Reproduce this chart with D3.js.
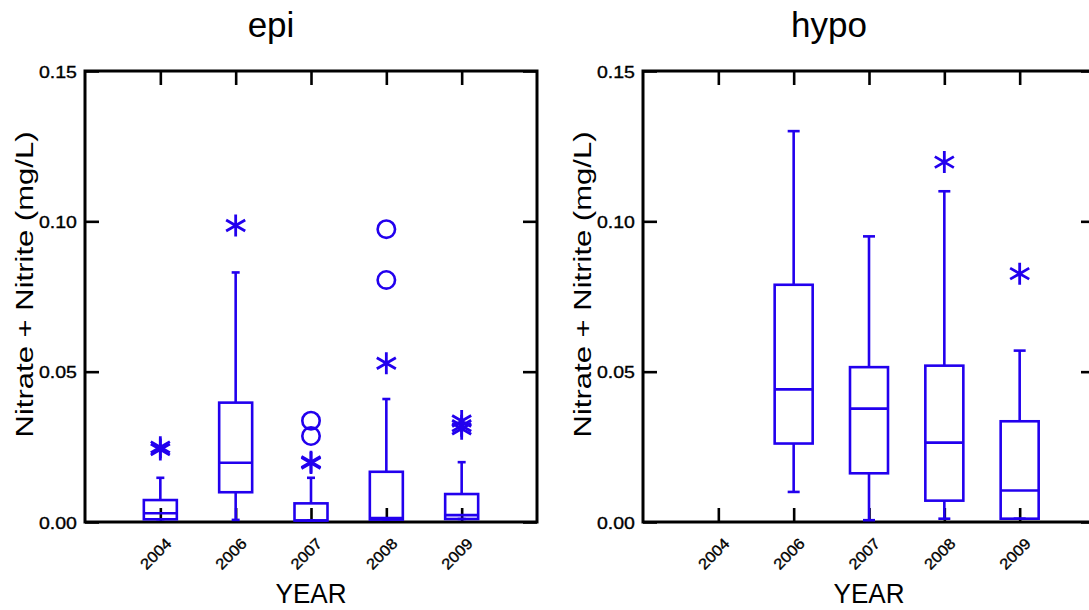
<!DOCTYPE html>
<html>
<head>
<meta charset="utf-8">
<script src="https://cdn.jsdelivr.net/npm/d3@7"></script>
<style>
  html, body { margin: 0; padding: 0; background: #fff; }
  svg { display: block; }
  text { font-family: "Liberation Sans", Arial, Helvetica, sans-serif; fill: #000; }
  .lbl { stroke: #000; stroke-width: 0.35px; }
</style>
</head>
<body>
<svg id="chart" width="1089" height="610"></svg>
<script>
// Categories and axis ticks
const years = ["2004", "2006", "2007", "2008", "2009"];
const yTicks = [0.00, 0.05, 0.10, 0.15];

// epi: box-plot statistics per year (mg/L)
const epiWhiskerLo = [0.0009, 0.0007, 0.0005, 0.0008, 0.0010];
const epiQ1        = [0.0009, 0.0099, 0.0005, 0.0008, 0.0010];
const epiMedian    = [0.0029, 0.0197, 0.0005, 0.0013, 0.0023];
const epiQ3        = [0.0073, 0.0397, 0.0062, 0.0167, 0.0093];
const epiWhiskerHi = [0.0147, 0.0830, 0.0147, 0.0409, 0.0199];
const epiOutside   = [[0.0241, 0.0249], [0.0986], [0.0196, 0.0200], [0.0528], [0.0310, 0.0320, 0.0336]];
const epiFarOut    = [[], [], [0.0286, 0.0337], [0.0805, 0.0974], []];

// hypo: box-plot statistics per year (no 2004 samples)
const hypoWhiskerLo = [null, 0.0100, 0.0006, 0.0011, 0.0011];
const hypoQ1        = [null, 0.0261, 0.0162, 0.0071, 0.0011];
const hypoMedian    = [null, 0.0441, 0.0377, 0.0264, 0.0105];
const hypoQ3        = [null, 0.0789, 0.0515, 0.0520, 0.0335];
const hypoWhiskerHi = [null, 0.1300, 0.0950, 0.1100, 0.0570];
const hypoOutside   = [[], [], [], [0.1197], [0.0826]];
const hypoFarOut    = [[], [], [], [], []];

const panels = [
  { title: "epi",  left: 85,  boxW: 33, capW: 8,
    lo: epiWhiskerLo, q1: epiQ1, med: epiMedian, q3: epiQ3, hi: epiWhiskerHi,
    outside: epiOutside, farOut: epiFarOut },
  { title: "hypo", left: 643, boxW: 38, capW: 12,
    lo: hypoWhiskerLo, q1: hypoQ1, med: hypoMedian, q3: hypoQ3, hi: hypoWhiskerHi,
    outside: hypoOutside, farOut: hypoFarOut }
];

const W = 452, TOP = 71, H = 451;
const BLUE = "#2200ee";
const TICK = 14;

const svg = d3.select("#chart");
svg.append("rect").attr("width", 1089).attr("height", 610).attr("fill", "#fff");

// six-armed asterisk centred at 0,0
function asterisk(r) {
  const t = r / 2, u = t * Math.sqrt(3);
  const p = d3.path();
  p.moveTo(0, -r); p.lineTo(0, r);
  p.moveTo(-u, -t); p.lineTo(u, t);
  p.moveTo(-u, t); p.lineTo(u, -t);
  return p.toString();
}

// place a text at (tx,ty) with rotation, stretched along its baseline to a given advance length
function fitText(sel, tx, ty, angle, target) {
  sel.each(function () {
    const len = this.getComputedTextLength();
    const s = len > 0 ? target / len : 1;
    d3.select(this).attr("x", 0).attr("y", 0).attr("dy", null)
      .attr("transform", `translate(${tx},${ty}) rotate(${angle}) scale(${s},1)`);
  });
}

panels.forEach(p => {
  const g = svg.append("g").attr("transform", `translate(${p.left},${TOP})`);
  const x = d3.scalePoint().domain(years).range([0, W]).padding(1);
  const y = d3.scaleLinear().domain([0, 0.15]).range([H, 0]);

  // axes with inward ticks
  const yLeft = g.append("g").call(d3.axisLeft(y).tickValues(yTicks).tickSize(-TICK)
      .tickFormat(d3.format(".2f")));
  const yRight = g.append("g").attr("transform", `translate(${W},0)`)
      .call(d3.axisRight(y).tickValues(yTicks).tickSize(-TICK).tickFormat(""));
  const xTop = g.append("g").call(d3.axisTop(x).tickSize(-TICK).tickFormat(""));
  const xBot = g.append("g").attr("transform", `translate(0,${H})`)
      .call(d3.axisBottom(x).tickSize(-TICK));

  [yLeft, yRight, xTop, xBot].forEach(a => {
    a.select(".domain").remove();
    a.selectAll(".tick line").attr("stroke", "#000").attr("stroke-width", 2.6);
  });

  const yl = yLeft.selectAll(".tick text").attr("class", "lbl")
      .attr("font-size", 16.8).attr("text-anchor", "end");
  fitText(yl, -8, 6, 0, 38);

  const xl = xBot.selectAll(".tick text").attr("class", "lbl")
      .attr("font-size", 15.2).attr("text-anchor", "end");
  fitText(xl, 11.6, 22.4, -45, 36.8);

  // frame
  g.append("rect").attr("width", W).attr("height", H)
      .attr("fill", "none").attr("stroke", "#000").attr("stroke-width", 3);

  // boxes
  const idx = d3.range(years.length).filter(i => p.q1[i] !== null);
  const box = g.append("g").attr("stroke", BLUE).attr("stroke-width", 2.6).attr("fill", "none");
  idx.forEach(i => {
    const cx = x(years[i]);
    const b = box.append("g");
    b.append("line").attr("x1", cx).attr("x2", cx).attr("y1", y(p.lo[i])).attr("y2", y(p.q1[i]));
    b.append("line").attr("x1", cx).attr("x2", cx).attr("y1", y(p.q3[i])).attr("y2", y(p.hi[i]));
    [p.lo[i], p.hi[i]].forEach(v => {
      b.append("line").attr("x1", cx - p.capW / 2).attr("x2", cx + p.capW / 2)
        .attr("y1", y(v)).attr("y2", y(v));
    });
    b.append("rect").attr("x", cx - p.boxW / 2).attr("width", p.boxW)
      .attr("y", y(p.q3[i])).attr("height", y(p.q1[i]) - y(p.q3[i]));
    b.append("line").attr("x1", cx - p.boxW / 2).attr("x2", cx + p.boxW / 2)
      .attr("y1", y(p.med[i])).attr("y2", y(p.med[i]));
  });

  // outside values (asterisks) and far-outside values (circles)
  years.forEach((yr, i) => {
    const cx = x(yr);
    p.outside[i].forEach(v => {
      box.append("path").attr("d", asterisk(11))
        .attr("transform", `translate(${cx},${y(v)})`).attr("stroke-width", 2.8);
    });
    p.farOut[i].forEach(v => {
      box.append("circle").attr("cx", cx).attr("cy", y(v)).attr("r", 8.7);
    });
  });

  // titles and axis labels
  svg.append("text").attr("x", p.left + W / 2 - 40).attr("y", 36.7)
      .attr("text-anchor", "middle").attr("font-size", 35).text(p.title);
  const xt = svg.append("text").attr("text-anchor", "middle").attr("font-size", 27).text("YEAR");
  fitText(xt, p.left + W / 2, 603.3, 0, 71);
  const yt = svg.append("text").attr("text-anchor", "middle").attr("font-size", 24.7)
      .text("Nitrate + Nitrite (mg/L)");
  fitText(yt, p.left - 52, 284.5, -90, 306);
});
</script>
</body>
</html>
